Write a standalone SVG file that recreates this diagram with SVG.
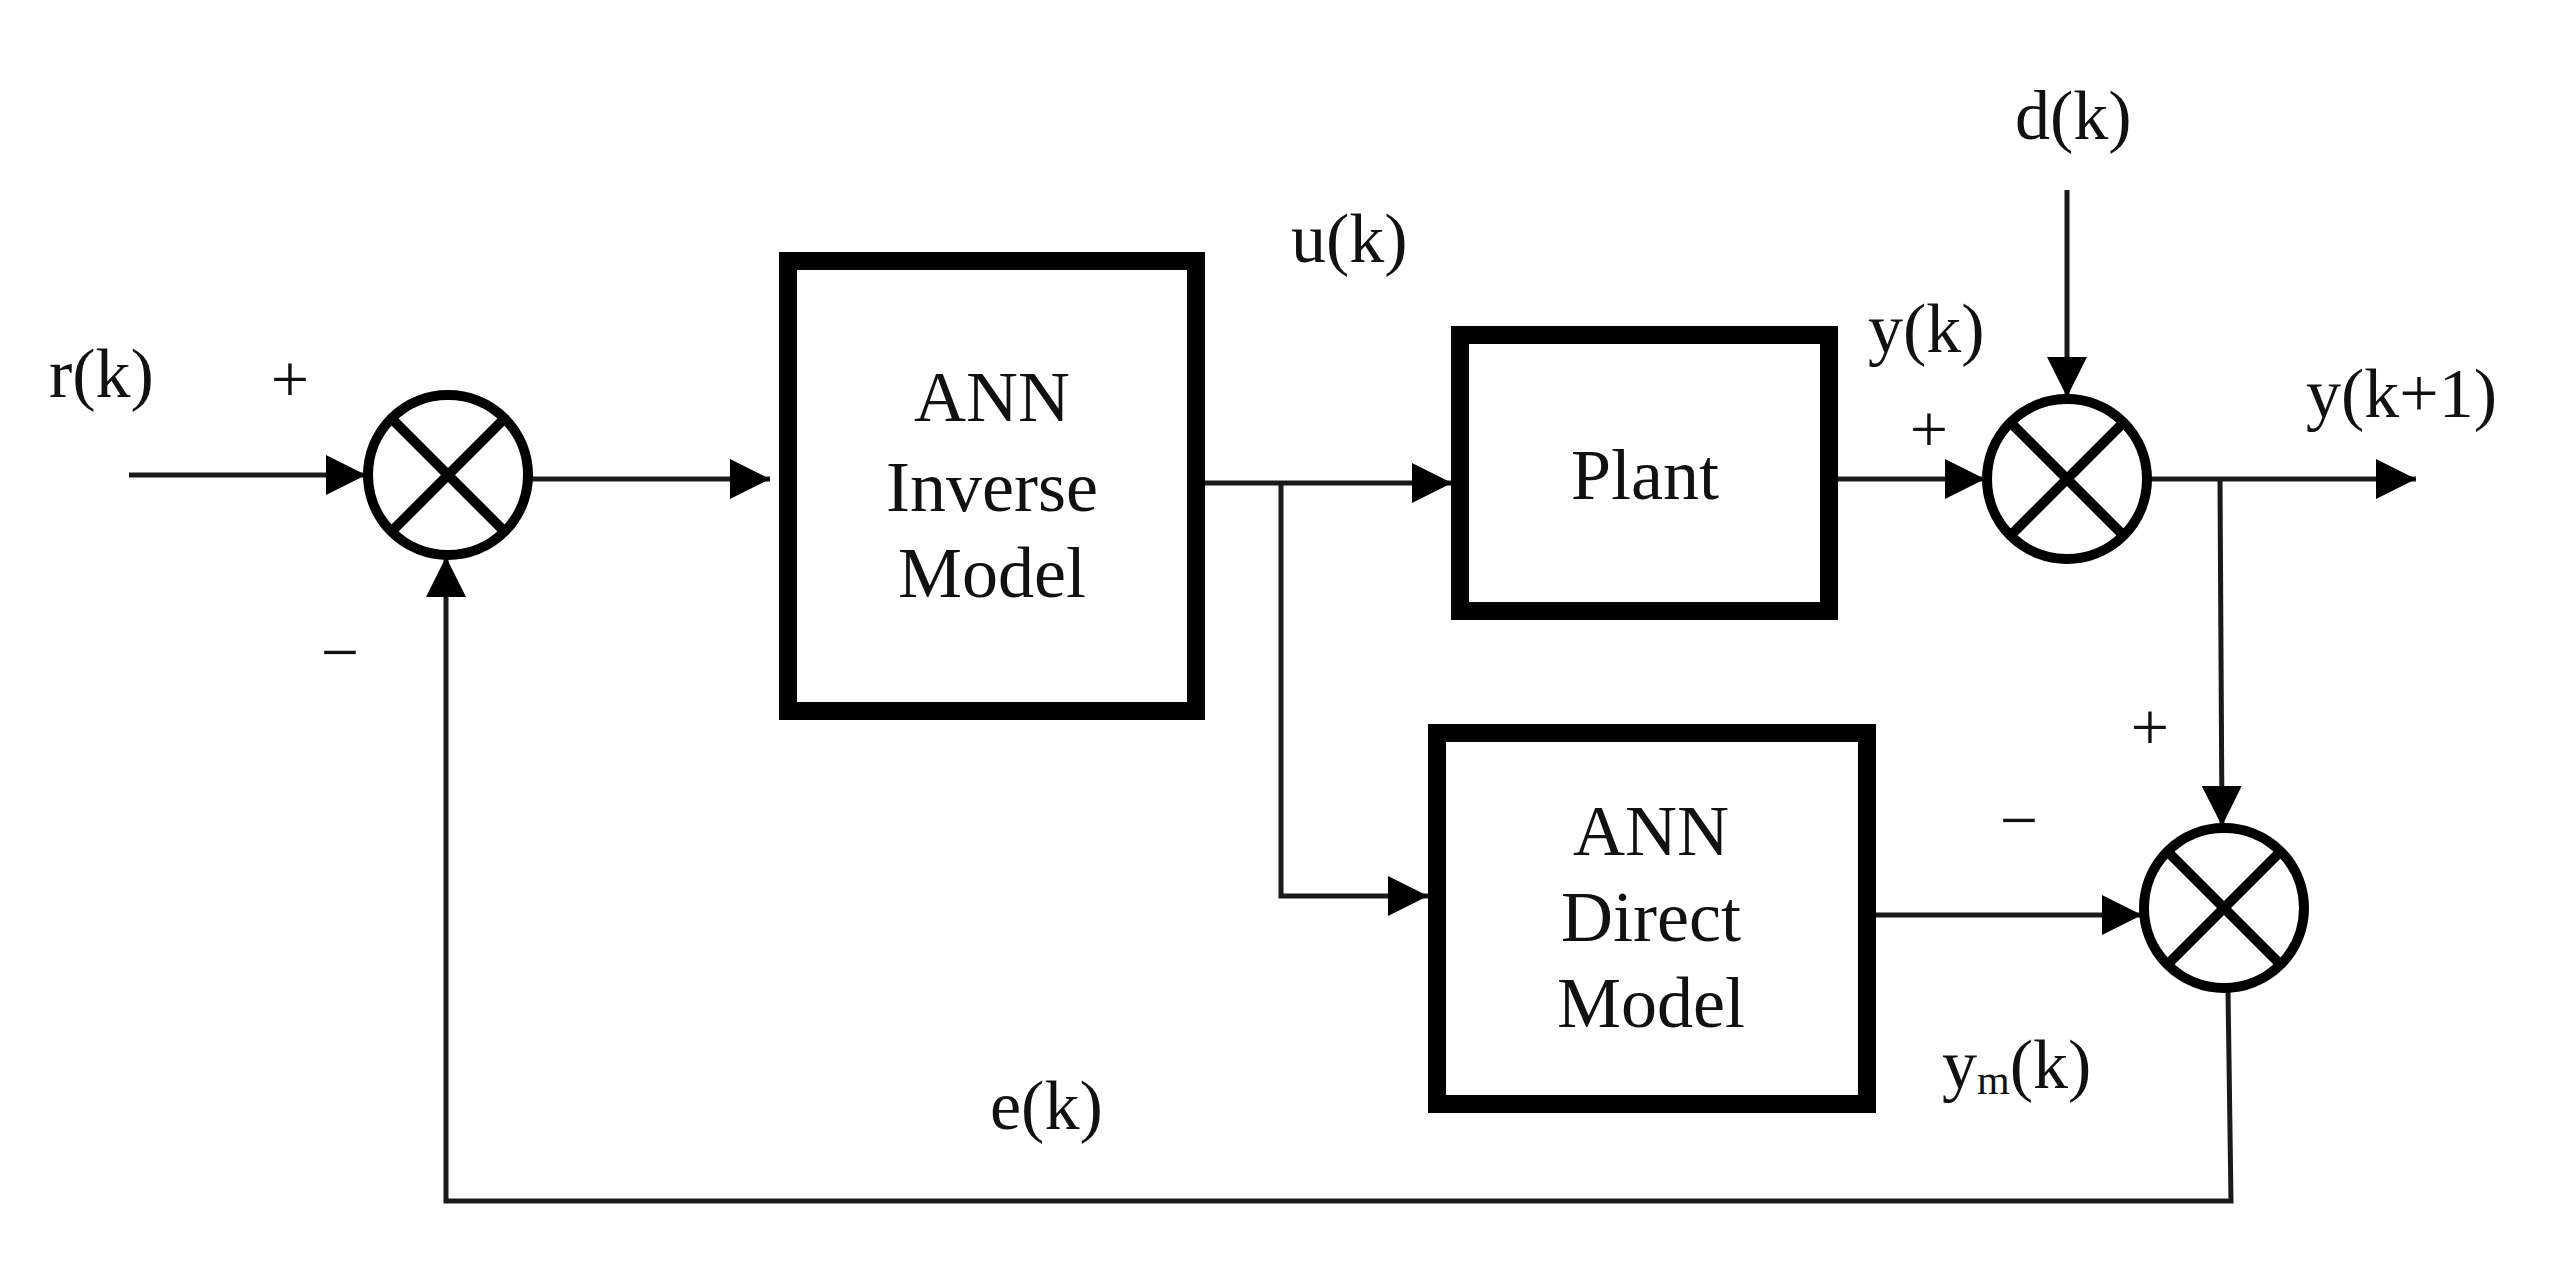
<svg xmlns="http://www.w3.org/2000/svg" width="2566" height="1288" viewBox="0 0 2566 1288">
<style>
.box{fill:#fff;stroke:#000;stroke-width:18}
.sum{fill:none;stroke:#000;stroke-width:10}
.ln{fill:none;stroke:#1a1a1a;stroke-width:5}
text{font-family:"Liberation Serif","Times New Roman",serif;fill:#111}
.lbl{font-size:70px}
.bt{font-size:72px;text-anchor:middle}
.sg{font-size:68px;text-anchor:middle}
</style>
<defs>
<marker id="a" viewBox="0 0 10 10" refX="10" refY="5" markerWidth="40" markerHeight="40" markerUnits="userSpaceOnUse" orient="auto"><path d="M0,0 L10,5 L0,10 z" fill="#000"/></marker>
</defs>
<rect width="2566" height="1288" fill="#fff"/>
<g id="connectors">
<line class="ln" x1="129" y1="475" x2="366" y2="475" marker-end="url(#a)"/>
<line class="ln" x1="532" y1="479" x2="770" y2="479" marker-end="url(#a)"/>
<polyline class="ln" points="1205,483 1452,483" marker-end="url(#a)"/>
<polyline class="ln" points="1281,483 1281,896 1428,896" marker-end="url(#a)"/>
<line class="ln" x1="1837" y1="479" x2="1985" y2="479" marker-end="url(#a)"/>
<line class="ln" x1="2067" y1="190" x2="2067" y2="397" marker-end="url(#a)"/>
<line class="ln" x1="2149" y1="479" x2="2416" y2="479" marker-end="url(#a)"/>
<line class="ln" x1="2220" y1="479" x2="2222" y2="826" marker-end="url(#a)"/>
<line class="ln" x1="1876" y1="915" x2="2142" y2="915" marker-end="url(#a)"/>
<polyline class="ln" points="2228,990 2231,1201 446,1201 446,557" marker-end="url(#a)" stroke="#333"/>
</g>
<g id="sum1"><circle class="sum" cx="448" cy="475" r="80"/><path class="sum" d="M391,418 L505,532 M505,418 L391,532"/></g>
<g id="sum2"><circle class="sum" cx="2067" cy="479" r="80"/><path class="sum" d="M2010,422 L2124,536 M2124,422 L2010,536"/></g>
<g id="sum3"><circle class="sum" cx="2224" cy="908" r="80"/><path class="sum" d="M2167,851 L2281,965 M2281,851 L2167,965"/></g>
<g id="inverse"><rect class="box" x="788" y="261" width="408" height="450"/>
<text class="bt" x="992" y="421">ANN</text><text class="bt" x="992" y="511">Inverse</text><text class="bt" x="992" y="597">Model</text></g>
<g id="plant"><rect class="box" x="1460" y="335" width="369" height="276"/>
<text class="bt" x="1645" y="499">Plant</text></g>
<g id="direct"><rect class="box" x="1437" y="733" width="430" height="371"/>
<text class="bt" x="1651" y="855">ANN</text><text class="bt" x="1651" y="941">Direct</text><text class="bt" x="1651" y="1027">Model</text></g>
<g id="labels">
<text class="lbl" x="49" y="397">r(k)</text>
<text class="sg" x="290" y="402">+</text>
<text class="sg" x="340" y="675">−</text>
<text class="lbl" x="1291" y="262">u(k)</text>
<text class="lbl" x="1868" y="352">y(k)</text>
<text class="sg" x="1929" y="452">+</text>
<text class="lbl" x="2015" y="139">d(k)</text>
<text class="lbl" x="2306" y="417">y(k+1)</text>
<text class="sg" x="2150" y="750">+</text>
<text class="sg" x="2019" y="843">−</text>
<text class="lbl" x="1942" y="1088">y<tspan font-size="42" dy="6">m</tspan><tspan dy="-6">(k)</tspan></text>
<text class="lbl" x="990" y="1129">e(k)</text>
</g>
</svg>
